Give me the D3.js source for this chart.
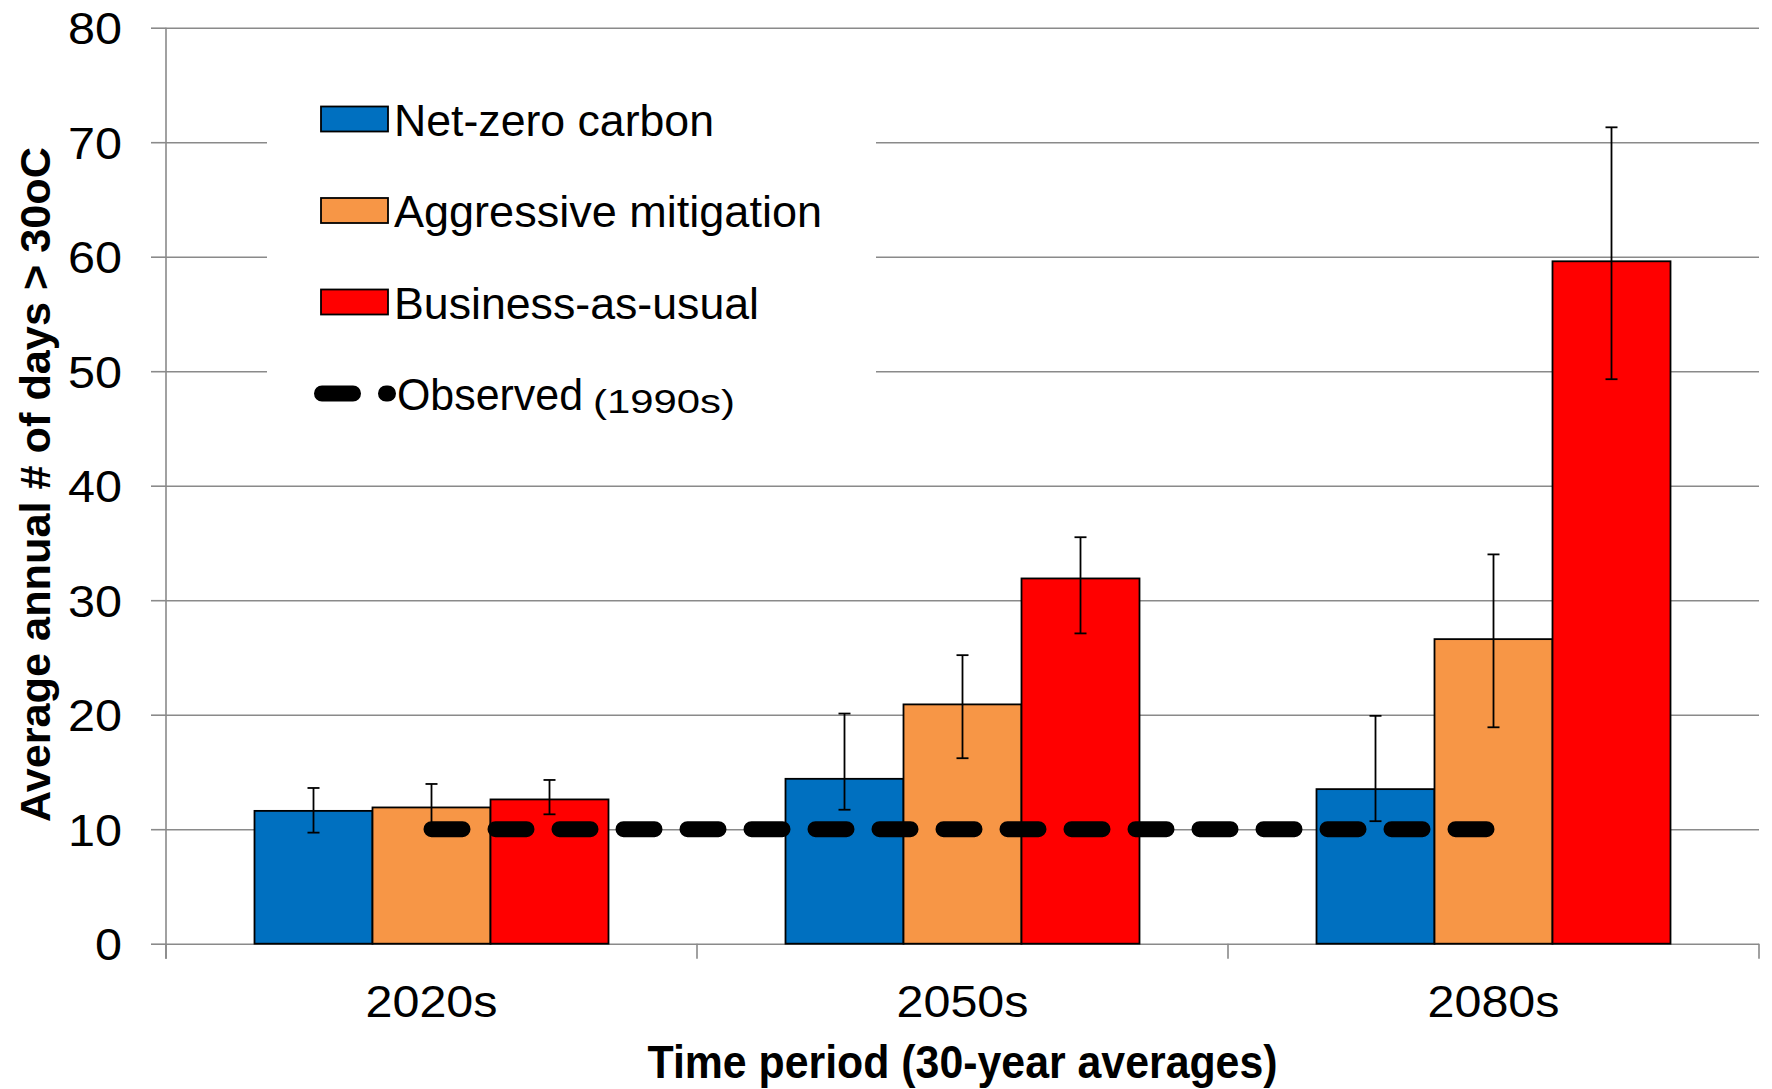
<!DOCTYPE html>
<html>
<head>
<meta charset="utf-8">
<script src="https://cdn.jsdelivr.net/npm/d3@7"></script>
<style>
  html, body { margin: 0; padding: 0; background: #ffffff; }
  svg { display: block; }
</style>
</head>
<body>
<svg id="chart" width="1772" height="1089"></svg>
<script>
// ---------- data ----------
const categories = ["2020s", "2050s", "2080s"];
const seriesNames = ["Net-zero carbon", "Aggressive mitigation", "Business-as-usual"];
const netZero      = [11.6, 14.4, 13.5];
const netZeroHigh  = [13.6, 20.1, 19.9];
const netZeroLow   = [9.7, 11.7, 10.7];
const aggressive     = [11.9, 20.9, 26.6];
const aggressiveHigh = [13.95, 25.2, 34.0];
const aggressiveLow  = [9.85, 16.2, 18.9];
const business     = [12.6, 31.9, 59.6];
const businessHigh = [14.3, 35.5, 71.3];
const businessLow  = [11.3, 27.1, 49.3];
const observed = [10, 10, 10];
const yTicks = [0, 10, 20, 30, 40, 50, 60, 70, 80];
const observedLabel = "Observed";
const observedSub = "(1990s)";
const xTitle = "Time period (30-year averages)";
const yTitle = "Average annual # of days > 30oC";

const colors = ["#0070C0", "#F79646", "#FF0000"];
const values = [netZero, aggressive, business];
const highs = [netZeroHigh, aggressiveHigh, businessHigh];
const lows = [netZeroLow, aggressiveLow, businessLow];

// ---------- layout ----------
const plotLeft = 166, plotRight = 1759, plotTop = 27.7, plotBottom = 943.7;
const gridColor = "#8a8a8a";
const svg = d3.select("#chart");
svg.append("rect").attr("width", 1772).attr("height", 1089).attr("fill", "#fff");

const x = d3.scaleBand().domain(categories).range([plotLeft, plotRight]).padding(0);
const xs = d3.scaleBand().domain(seriesNames).range([0, x.bandwidth()]).paddingInner(0).paddingOuter(0.75);
const y = d3.scaleLinear().domain([0, 80]).range([plotBottom, plotTop]);

// gridlines + y ticks
const yAxis = d3.axisLeft(y).tickValues(yTicks).tickSize(15).tickPadding(29).tickFormat(d3.format("d"));
const gy = svg.append("g").attr("transform", `translate(${plotLeft},0)`).call(yAxis);
gy.select(".domain").remove();
gy.selectAll(".tick line").attr("stroke", gridColor).attr("stroke-width", 1.6);
gy.selectAll(".tick text")
  .attr("font-family", "Liberation Sans, Arial, sans-serif")
  .attr("font-size", 45).attr("fill", "#000").attr("dy", "0.36em")
  .attr("textLength", d => String(d).length * 27).attr("lengthAdjust", "spacingAndGlyphs");

const grid = d3.axisLeft(y).tickValues(yTicks).tickSize(-(plotRight - plotLeft)).tickFormat("");
const gg = svg.append("g").attr("transform", `translate(${plotLeft},0)`).call(grid);
gg.select(".domain").remove();
gg.selectAll(".tick line").attr("stroke", gridColor).attr("stroke-width", 1.6);

// legend background covering gridlines
svg.append("rect").attr("x", 267).attr("y", 55).attr("width", 609).attr("height", 370).attr("fill", "#fff");

// y axis line
svg.append("line").attr("x1", plotLeft).attr("x2", plotLeft).attr("y1", plotTop).attr("y2", plotBottom + 15)
  .attr("stroke", gridColor).attr("stroke-width", 1.6);

// category boundary ticks
const bounds = categories.map(c => x(c)).concat([x(categories[categories.length - 1]) + x.bandwidth()]);
svg.selectAll(".ctick").data(bounds).enter().append("line")
  .attr("x1", d => d).attr("x2", d => d).attr("y1", plotBottom).attr("y2", plotBottom + 15)
  .attr("stroke", gridColor).attr("stroke-width", 1.6);

// bars
const barData = [];
categories.forEach((c, i) => seriesNames.forEach((s, j) => {
  barData.push({ c, s, j, v: values[j][i], hi: highs[j][i], lo: lows[j][i] });
}));
svg.append("g").selectAll("rect").data(barData).enter().append("rect")
  .attr("x", d => x(d.c) + xs(d.s))
  .attr("y", d => y(d.v))
  .attr("width", xs.bandwidth())
  .attr("height", d => y(0) - y(d.v))
  .attr("fill", d => colors[d.j])
  .attr("stroke", "#000").attr("stroke-width", 1.8);

// error bars
const eb = svg.append("g").selectAll("g").data(barData).enter().append("g");
const cx = d => x(d.c) + xs(d.s) + xs.bandwidth() / 2;
eb.append("line").attr("x1", cx).attr("x2", cx).attr("y1", d => y(d.hi)).attr("y2", d => y(d.lo))
  .attr("stroke", "#000").attr("stroke-width", 1.8);
eb.append("line").attr("x1", d => cx(d) - 6).attr("x2", d => cx(d) + 6).attr("y1", d => y(d.hi)).attr("y2", d => y(d.hi))
  .attr("stroke", "#000").attr("stroke-width", 1.8);
eb.append("line").attr("x1", d => cx(d) - 6).attr("x2", d => cx(d) + 6).attr("y1", d => y(d.lo)).attr("y2", d => y(d.lo))
  .attr("stroke", "#000").attr("stroke-width", 1.8);

// observed line
const line = d3.line().x((d, i) => x(categories[i]) + x.bandwidth() / 2).y(d => y(d));
svg.append("path").datum(observed).attr("d", line)
  .attr("fill", "none").attr("stroke", "#000").attr("stroke-width", 16)
  .attr("stroke-linecap", "round").attr("stroke-dasharray", "31,33");

// x labels
svg.append("g").selectAll("text").data(categories).enter().append("text")
  .attr("x", d => x(d) + x.bandwidth() / 2).attr("y", 1017)
  .attr("text-anchor", "middle")
  .attr("font-family", "Liberation Sans, Arial, sans-serif").attr("font-size", 45)
  .attr("textLength", 132).attr("lengthAdjust", "spacingAndGlyphs")
  .text(d => d);

// x title
svg.append("text").attr("x", (plotLeft + plotRight) / 2).attr("y", 1078)
  .attr("text-anchor", "middle")
  .attr("font-family", "Liberation Sans Narrow, Liberation Sans, Arial, sans-serif")
  .attr("font-weight", "bold").attr("font-size", 46)
  .attr("textLength", 630).attr("lengthAdjust", "spacingAndGlyphs")
  .text(xTitle);

// y title
svg.append("text").attr("transform", "translate(50,484.5) rotate(-90)")
  .attr("text-anchor", "middle")
  .attr("font-family", "Liberation Sans, Arial, sans-serif")
  .attr("font-weight", "bold").attr("font-size", 42)
  .attr("textLength", 675).attr("lengthAdjust", "spacingAndGlyphs")
  .text(yTitle);

// legend
const legendRowY = [119, 210.5, 302];
const legendWidths = [320, 428, 365];
const lg = svg.append("g");
seriesNames.forEach((s, j) => {
  lg.append("rect").attr("x", 321).attr("y", legendRowY[j] - 12.5).attr("width", 67).attr("height", 25)
    .attr("fill", colors[j]).attr("stroke", "#000").attr("stroke-width", 1.8);
  lg.append("text").attr("x", 394).attr("y", legendRowY[j] + 16.5)
    .attr("font-family", "Liberation Sans Narrow, Liberation Sans, Arial, sans-serif")
    .attr("font-size", 44)
    .attr("textLength", legendWidths[j]).attr("lengthAdjust", "spacingAndGlyphs")
    .text(s);
});
const obsY = 393.5;
lg.append("line").attr("x1", 322).attr("x2", 388).attr("y1", obsY).attr("y2", obsY)
  .attr("stroke", "#000").attr("stroke-width", 16).attr("stroke-linecap", "round")
  .attr("stroke-dasharray", "31,33");
lg.append("text").attr("x", 397).attr("y", 410)
  .attr("font-family", "Liberation Sans Narrow, Liberation Sans, Arial, sans-serif")
  .attr("font-size", 44)
  .attr("textLength", 186).attr("lengthAdjust", "spacingAndGlyphs")
  .text(observedLabel);
lg.append("text").attr("x", 593).attr("y", 413)
  .attr("font-family", "Liberation Sans Narrow, Liberation Sans, Arial, sans-serif")
  .attr("font-size", 34)
  .attr("textLength", 142).attr("lengthAdjust", "spacingAndGlyphs")
  .text(observedSub);
</script>
</body>
</html>
